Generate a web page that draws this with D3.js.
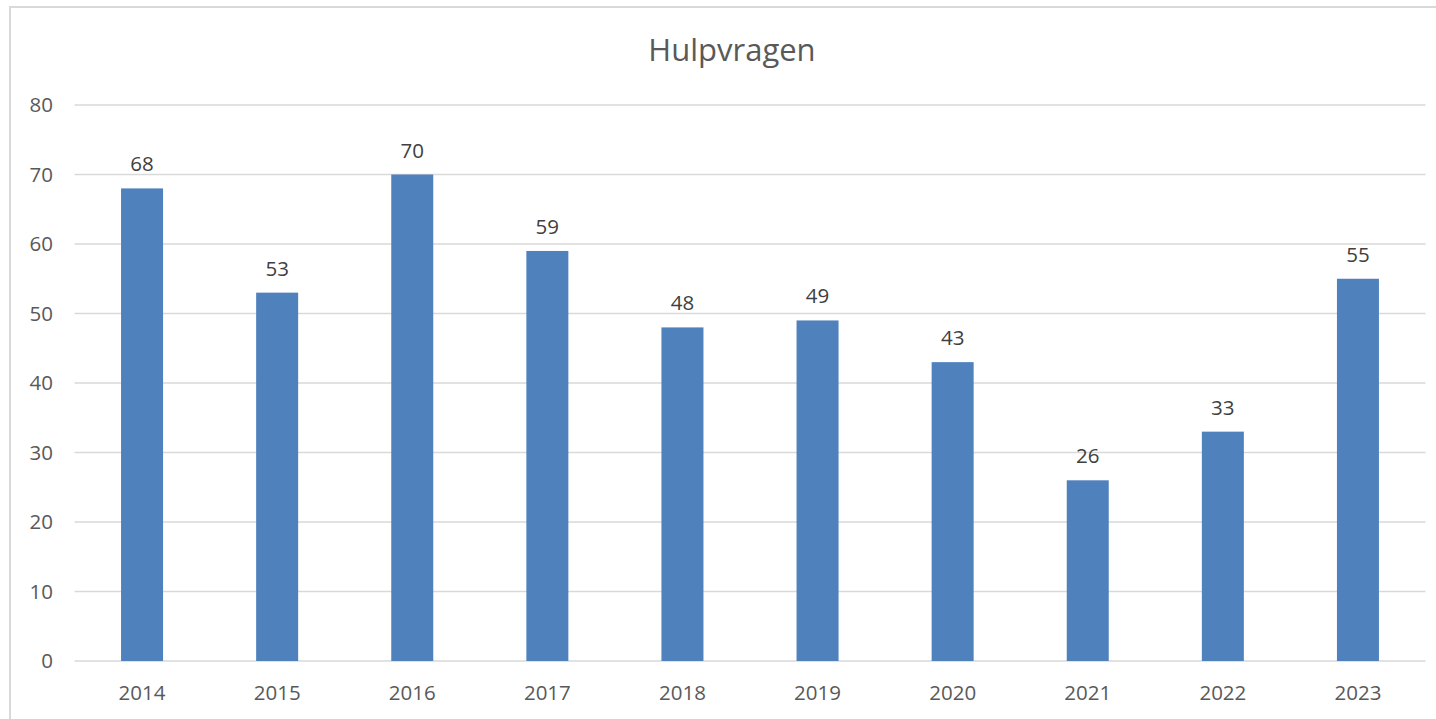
<!DOCTYPE html>
<html><head><meta charset="utf-8">
<script src="https://cdn.jsdelivr.net/npm/d3@7"></script>
<style>body{margin:0;background:#fff;} svg{display:block;}</style>
</head><body>
<svg id="c" width="1436" height="719"></svg>
<script>
const title = "Hulpvragen";
const categories = ["2014","2015","2016","2017","2018","2019","2020","2021","2022","2023"];
const values = [68,53,70,59,48,49,43,26,33,55];
const yTicks = [0,10,20,30,40,50,60,70,80];

const svg = d3.select("#c");
const font = "'Open Sans', 'Liberation Sans', sans-serif";
svg.append("rect").attr("x",10).attr("y",7).attr("width",1440).attr("height",720)
  .attr("fill","#fff").attr("stroke","#d9d9d9").attr("stroke-width",2);

const x = d3.scaleBand().domain(categories).range([74.5,1425.5]).paddingInner(0.69).paddingOuter(0.345);
const y = d3.scaleLinear().domain([0,80]).range([661,105]);

svg.append("text").attr("x",732).attr("y",61).attr("text-anchor","middle")
  .attr("font-family",font).attr("font-size",31).attr("fill","#595959").text(title);

const grid = svg.append("g");
grid.selectAll("line").data(yTicks).join("line")
  .attr("x1",74.5).attr("x2",1425.5).attr("y1",d=>y(d)).attr("y2",d=>y(d))
  .attr("stroke","#d9d9d9").attr("stroke-width",1.5);

const yAxis = svg.append("g").attr("transform","translate(53,0)")
  .call(d3.axisLeft(y).tickValues(yTicks).tickSize(0).tickPadding(0));
yAxis.select(".domain").remove();
yAxis.selectAll("text").attr("font-family",font).attr("font-size",20.5).attr("fill","#595959");

const xAxis = svg.append("g").attr("transform","translate(0,661)")
  .call(d3.axisBottom(x).tickSize(0).tickPadding(0));
xAxis.select(".domain").remove();
xAxis.selectAll("text").attr("y",39).attr("dy",0).attr("font-family",font).attr("font-size",20.5).attr("fill","#595959");

const bw = 42;
svg.append("g").selectAll("rect").data(values).join("rect")
  .attr("x",(d,i)=>x(categories[i])+x.bandwidth()/2-bw/2).attr("width",bw)
  .attr("y",d=>y(d)).attr("height",d=>y(0)-y(d)).attr("fill","#4f81bd");

svg.append("g").selectAll("text").data(values).join("text")
  .attr("x",(d,i)=>x(categories[i])+x.bandwidth()/2).attr("y",d=>y(d)-17)
  .attr("text-anchor","middle").attr("font-family",font).attr("font-size",20.5)
  .attr("fill","#404040").text(d=>d);
</script>
</body></html>
